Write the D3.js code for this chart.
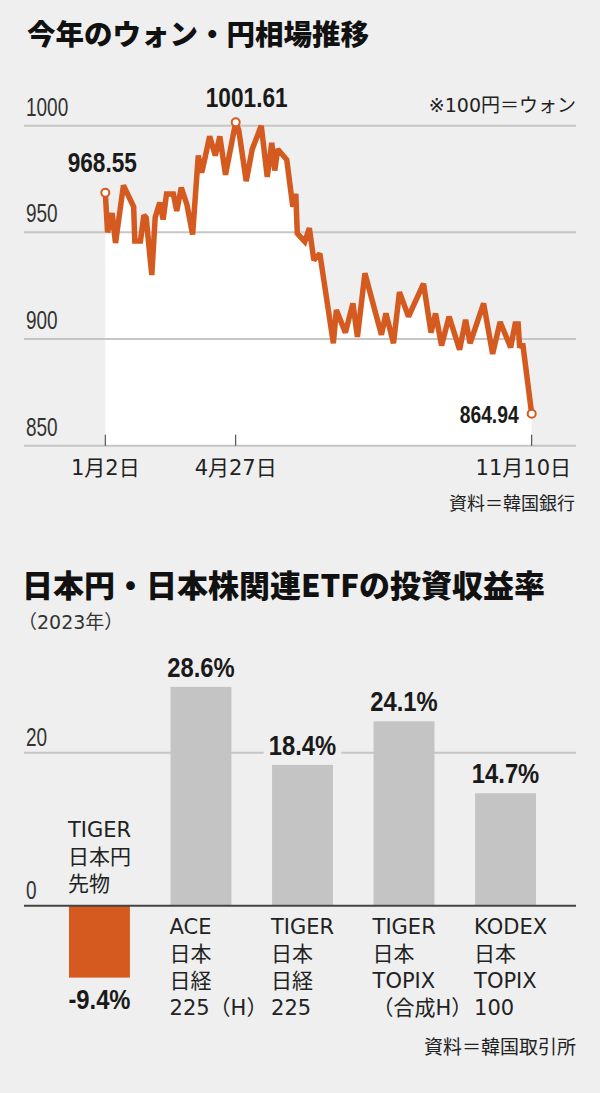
<!DOCTYPE html>
<html lang="ja">
<head>
<meta charset="utf-8">
<title>ウォン・円相場とETF投資収益率</title>
<script src="https://cdn.jsdelivr.net/npm/d3@7"></script>
<style>
  body { margin: 0; background: #efefef; }
  svg { display: block; }
  .title { font-family: "Noto Sans CJK JP", sans-serif; font-weight: 900; fill: #111; }
  .jp { font-family: "DejaVu Sans", "Noto Sans CJK JP", sans-serif; fill: #222; }
  .num { font-family: "Liberation Sans", Arial, sans-serif; fill: #222; }
</style>
</head>
<body>
<svg id="chart" width="600" height="1093"></svg>
<script>
// 今年のウォン・円相場（100円あたりウォン）
// 1月2日からの経過日数
const rateDays = [0, 2, 6, 9, 16, 25, 26, 31, 34, 36, 41, 44, 48, 51, 54, 60, 63, 67, 72, 77,
    82, 85, 88, 92, 97, 101, 106, 115, 117, 122, 126, 132, 136, 139, 141, 143, 149, 152, 153, 155,
    156, 161, 164, 167, 171, 180, 182, 188, 193, 196, 201, 207, 212, 215, 220, 224, 230, 240, 245, 248,
    252, 257, 264, 268, 271, 280, 286, 291, 298, 301, 303, 304, 306, 312];
const rateValues = [968.55, 950, 959, 945, 972, 962, 946, 946, 958, 957, 930, 957, 964, 956, 968, 968, 960, 971, 963, 949,
    986, 978, 985, 995, 986, 995, 977, 1001.61, 998, 974, 989, 1000, 976, 992, 979, 989, 984, 967.5, 962, 968,
    949.5, 945.6, 952, 937, 940, 898, 913.6, 903, 916.7, 901, 930.8, 915, 902, 912, 898, 922, 910.5, 926, 903, 912,
    897, 910.5, 895, 909, 898, 916.7, 893, 908, 896, 907, 907, 896, 898, 864.94];
const rateTickDays = [0, 115, 312];
const rateTickLabels = ["1月2日", "4月27日", "11月10日"];
const rateAxisTicks = [850, 900, 950, 1000];

// 日本円・日本株関連ETFの投資収益率（2023年）
const etfNames = [
    ["TIGER", "日本円", "先物"],
    ["ACE", "日本", "日経", "225（H）"],
    ["TIGER", "日本", "日経", "225"],
    ["TIGER", "日本", "TOPIX", "（合成H）"],
    ["KODEX", "日本", "TOPIX", "100"]
];
const etfReturns = [-9.4, 28.6, 18.4, 24.1, 14.7];
const etfAxisTicks = [0, 20];

const colors = {
    bg: '#efefef',
    orange: '#d45a1f',
    bar: '#c3c4c3',
    grid: '#c6c6c6',
    zero: '#444'
};

const svg = d3.select("#chart");
const startDate = new Date(2023, 0, 2);
const toDate = d => d3.timeDay.offset(startDate, d);

// 細い数字（横方向に縮めて長体にする）
function narrowText(parent, x, y, str, opt) {
    const g = parent.append("g")
        .attr("transform", `translate(${x},${y}) scale(${opt.sx},1)`);
    const rect = opt.bg ? g.append("rect").style("fill", opt.bg) : null;
    const t = g.append("text")
        .attr("class", "num")
        .attr("text-anchor", opt.anchor || "start")
        .style("font-size", opt.size + "px")
        .style("font-weight", opt.weight || 400)
        .style("fill", opt.fill || "#1a1a1a")
        .text(str);
    if (rect) {
        const b = t.node().getBBox();
        rect.attr("x", b.x - 6).attr("y", b.y + 3)
            .attr("width", b.width + 12).attr("height", b.height - 6);
    }
    return t;
}

// 上段：ウォン・円相場
function drawRate() {
    const g = svg.append("g");
    const data = rateDays.map((d, i) => ({ date: toDate(d), value: rateValues[i] }));

    const x = d3.scaleTime()
        .domain(rateTickDays.map(toDate))
        .range([105.3, 235.7, 531.7]);
    const y = d3.scaleLinear().domain([850, 1000]).range([445.7, 125.7]);

    g.append("text").attr("class", "title")
        .attr("x", 27).attr("y", 45)
        .style("font-size", "28.5px")
        .text("今年のウォン・円相場推移");

    // 線の下の白い面
    const area = d3.area()
        .x(d => x(d.date))
        .y0(y(850))
        .y1(d => y(d.value));
    g.append("path").datum(data)
        .attr("d", area)
        .style("fill", "#fff");

    // 目盛り線
    g.selectAll(".grid")
        .data(rateAxisTicks)
        .enter().append("line")
        .attr("x1", 24).attr("x2", 576)
        .attr("y1", d => y(d)).attr("y2", d => y(d))
        .style("stroke", colors.grid)
        .style("stroke-width", 2);

    rateAxisTicks.forEach(t => {
        narrowText(g, 26, y(t) - 10, t, { sx: 0.73, size: 26, fill: "#333" });
    });

    // 日付の目盛り
    const tickDates = rateTickDays.map(toDate);
    g.selectAll(".xtick")
        .data(tickDates)
        .enter().append("line")
        .attr("x1", d => x(d)).attr("x2", d => x(d))
        .attr("y1", y(850) - 11).attr("y2", y(850))
        .style("stroke", "#333")
        .style("stroke-width", 1);

    g.selectAll(".xlab")
        .data(tickDates)
        .enter().append("text")
        .attr("class", "jp")
        .attr("x", d => x(d))
        .attr("y", 475)
        .attr("text-anchor", "middle")
        .style("font-size", "21px")
        .text((d, i) => rateTickLabels[i])
        .each(function() {
            // 右端からはみ出さないようにずらす
            const b = this.getBBox();
            if (b.x + b.width > 571) {
                d3.select(this).attr("x", +d3.select(this).attr("x") - (b.x + b.width - 571));
            }
        });

    // 相場の線
    const line = d3.line()
        .x(d => x(d.date))
        .y(d => y(d.value));
    g.append("path").datum(data)
        .attr("d", line)
        .style("fill", "none")
        .style("stroke", colors.orange)
        .style("stroke-width", 5.5)
        .style("stroke-linejoin", "miter")
        .style("stroke-miterlimit", 2);

    // 始値・最高値・最新値
    const first = data[0];
    const peak = data[d3.maxIndex(data, d => d.value)];
    const last = data[data.length - 1];
    const fmt = d3.format(".2f");

    const marks = [
        { d: first, dx: -3, dy: -21, anchor: "middle", size: 27 },
        { d: peak, dx: 11, dy: -15, anchor: "middle", size: 27 },
        { d: last, dx: -13, dy: 9, anchor: "end", size: 23 }
    ];

    marks.forEach(m => {
        g.append("circle")
            .attr("cx", x(m.d.date))
            .attr("cy", y(m.d.value))
            .attr("r", 4)
            .style("fill", "#fff")
            .style("stroke", colors.orange)
            .style("stroke-width", 2);

        narrowText(g, x(m.d.date) + m.dx, y(m.d.value) + m.dy, fmt(m.d.value),
            { sx: 0.84, size: m.size, weight: 700, anchor: m.anchor });
    });

    g.append("text").attr("class", "jp")
        .attr("x", 576).attr("y", 112)
        .attr("text-anchor", "end")
        .style("font-size", "19px")
        .text("※100円＝ウォン");

    g.append("text").attr("class", "jp")
        .attr("x", 575).attr("y", 510)
        .attr("text-anchor", "end")
        .style("font-size", "18px")
        .text("資料＝韓国銀行");
}

// 下段：ETF投資収益率
function drawEtf() {
    const g = svg.append("g");
    const idx = d3.range(etfReturns.length);

    const x = d3.scaleBand().domain(idx).range([69, 536]).paddingInner(0.4).paddingOuter(0);
    const y = d3.scaleLinear().domain([0, 20]).range([905.7, 752.7]);

    g.append("text").attr("class", "title")
        .attr("x", 22).attr("y", 597)
        .style("font-size", "31px")
        .text("日本円・日本株関連ETFの投資収益率");

    g.append("text").attr("class", "jp")
        .attr("x", 18).attr("y", 629)
        .style("font-size", "19px")
        .style("fill", "#333")
        .text("（2023年）");

    // 20の目盛り線
    g.selectAll(".grid")
        .data(etfAxisTicks.filter(t => t !== 0))
        .enter().append("line")
        .attr("x1", 24).attr("x2", 576)
        .attr("y1", d => y(d)).attr("y2", d => y(d))
        .style("stroke", colors.grid)
        .style("stroke-width", 2);

    etfAxisTicks.forEach(t => {
        narrowText(g, 26, y(t) - 7, t, { sx: 0.73, size: 26, fill: "#333" });
    });

    // 棒
    g.selectAll(".bar")
        .data(idx)
        .enter().append("rect")
        .attr("x", i => x(i))
        .attr("width", x.bandwidth())
        .attr("y", i => y(Math.max(0, etfReturns[i])))
        .attr("height", i => Math.abs(y(etfReturns[i]) - y(0)))
        .style("fill", i => etfReturns[i] < 0 ? colors.orange : colors.bar);

    // 0の線
    g.append("line")
        .attr("x1", 24).attr("x2", 576)
        .attr("y1", y(0)).attr("y2", y(0))
        .style("stroke", colors.zero)
        .style("stroke-width", 2);

    // 収益率のラベル（背景で目盛り線を切る）
    idx.forEach(i => {
        const v = etfReturns[i];
        const cx = x(i) + x.bandwidth() / 2;
        const ty = v < 0 ? y(v) + 31 : y(v) - 10;
        narrowText(g, cx, ty, v.toFixed(1) + "%",
            { sx: 0.85, size: 28, weight: 700, anchor: "middle", bg: colors.bg });
    });

    // ETF名
    idx.forEach(i => {
        const lines = etfNames[i];
        const neg = etfReturns[i] < 0;
        const lh = 27;
        const y0 = neg ? y(0) - 15 - (lines.length - 1) * lh : y(0) + 28;
        const t = g.append("text")
            .attr("class", "jp")
            .style("font-size", "21px");
        lines.forEach((s, k) => {
            t.append("tspan")
                .attr("x", x(i) - 1)
                .attr("y", y0 + k * lh)
                .text(s);
        });
    });

    g.append("text").attr("class", "jp")
        .attr("x", 576).attr("y", 1054)
        .attr("text-anchor", "end")
        .style("font-size", "19px")
        .text("資料＝韓国取引所");
}

function init() {
    drawRate();
    drawEtf();
}

document.addEventListener("DOMContentLoaded", init);
</script>
</body>
</html>
